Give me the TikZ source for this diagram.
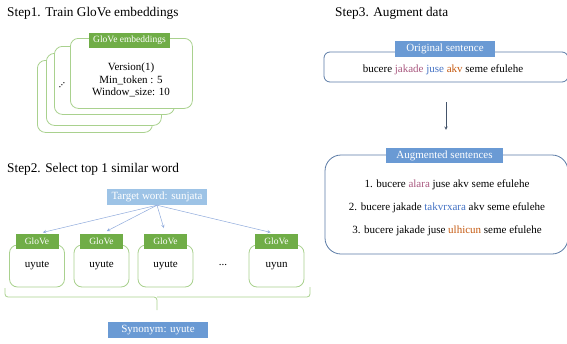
\documentclass[tikz,border=0pt]{standalone}
\usepackage{fontspec}
\setmainfont{Liberation Serif}
\usetikzlibrary{positioning,calc,arrows}

\definecolor{gline}{HTML}{A9D18E}
\definecolor{gfill}{HTML}{70AD47}
\definecolor{bline}{HTML}{5B7BA6}
\definecolor{bfill}{HTML}{6A9AD4}
\definecolor{tfill}{HTML}{9DC3E6}
\definecolor{arrblue}{HTML}{8FAADC}
\definecolor{darrow}{HTML}{44546A}
\definecolor{mauve}{HTML}{A9587F}
\definecolor{wblue}{HTML}{4472C4}
\definecolor{worange}{HTML}{C55A11}

\begin{document}
\begin{tikzpicture}[x=1pt, y=-1pt, font=\fontsize{11}{13}\selectfont,
    gbox/.style={draw=gline, line width=0.8pt, fill=white, rounded corners=8pt, inner sep=0pt},
    ghead/.style={fill=gfill, text=white, font=\fontsize{9.5}{11}\selectfont, inner sep=0pt, minimum height=15},
    bbox/.style={draw=bline, line width=0.8pt, inner sep=0pt},
    bhead/.style={fill=bfill, text=white, inner sep=0pt, minimum height=16},
    title/.style={anchor=west, font=\fontsize{13.3}{15}\selectfont, inner sep=0pt}]

    \useasboundingbox (0,0) rectangle (567,343);
    \clip (0,0) rectangle (567,343);

    % Step 1: stacked embedding versions
    \node[title] (title1) at (7,13) {Step1. Train GloVe embeddings};
    \foreach \n/\x/\y/\bw/\bh in {4/37/60/115/72, 3/46/53/115/72, 2/54/46/120/68, 1/70/38/122/70} {
        \node[gbox, anchor=north west, minimum width=\bw, minimum height=\bh] (layer\n) at (\x,\y) {};
    }
    \node[ghead, minimum width=81] (embhead) at (129.5,40) {GloVe embeddings};
    \node[align=center, font=\fontsize{11}{12.5}\selectfont] (params) at (131,80) {Version(1)\\Min\_token : 5\\Window\_size: 10};
    \node[rotate=45, inner sep=0pt] (dots1) at (62,85) {...};

    % Step 2: nearest word in each embedding
    \node[title] (title2) at (7,169) {Step2. Select top 1 similar word};
    \node[fill=tfill, text=white, inner sep=0pt, minimum width=100, minimum height=16] (target) at (157,197) {Target word: sunjata};
    \foreach \n/\x/\word in {1/37/uyute, 2/101.5/uyute, 3/165.5/uyute, 4/276.5/uyun} {
        \node[gbox, minimum width=55, minimum height=42] (glove\n) at (\x,266) {\word};
        \node[ghead, minimum width=43] (ghead\n) at (\x,241.5) {GloVe};
        \draw[arrblue, line width=0.5pt, -stealth, shorten >=6pt] (target.south) -- (ghead\n.north);
    }
    \node (dots2) at (223,265) {...};
    % brace
    \draw[gline, line width=0.8pt, rounded corners=3pt] (5,288) |- (157,297) -- (157,310);
    \draw[gline, line width=0.8pt, rounded corners=3pt] (310,287) |- (157,297);
    \node[bhead, minimum width=100] (synonym) at (158,330) {Synonym: uyute};

    % Step 3: replace words
    \node[title] (title3) at (335,13) {Step3. Augment data};
    \node[bbox, rounded corners=6pt, minimum width=244, minimum height=30] (orig) at (446,67) {};
    \node[bhead, minimum width=100] (orighead) at (445,49) {Original sentence};
    \node (origtext) at (443,70) {bucere \textcolor{mauve}{jakade} \textcolor{wblue}{juse} \textcolor{worange}{akv} seme efulehe};

    \node[bbox, rounded corners=16pt, minimum width=243, minimum height=99] (aug) at (446.5,204.5) {};
    \node[bhead, minimum width=117, minimum height=15] (aughead) at (444.5,155.5) {Augmented sentences};
    \node[align=center, font=\fontsize{11}{23}\selectfont] (augtext) at (447,208) {1. bucere \textcolor{mauve}{alara} juse akv seme efulehe\\
        2. bucere jakade \textcolor{wblue}{takvrxara} akv seme efulehe\\
        3. bucere jakade juse \textcolor{worange}{ulhicun} seme efulehe};
    \draw[darrow, line width=0.5pt, -stealth, shorten <=20pt, shorten >=18pt] (orig.south) -- (orig.south |- aughead.north);
\end{tikzpicture}
\end{document}
